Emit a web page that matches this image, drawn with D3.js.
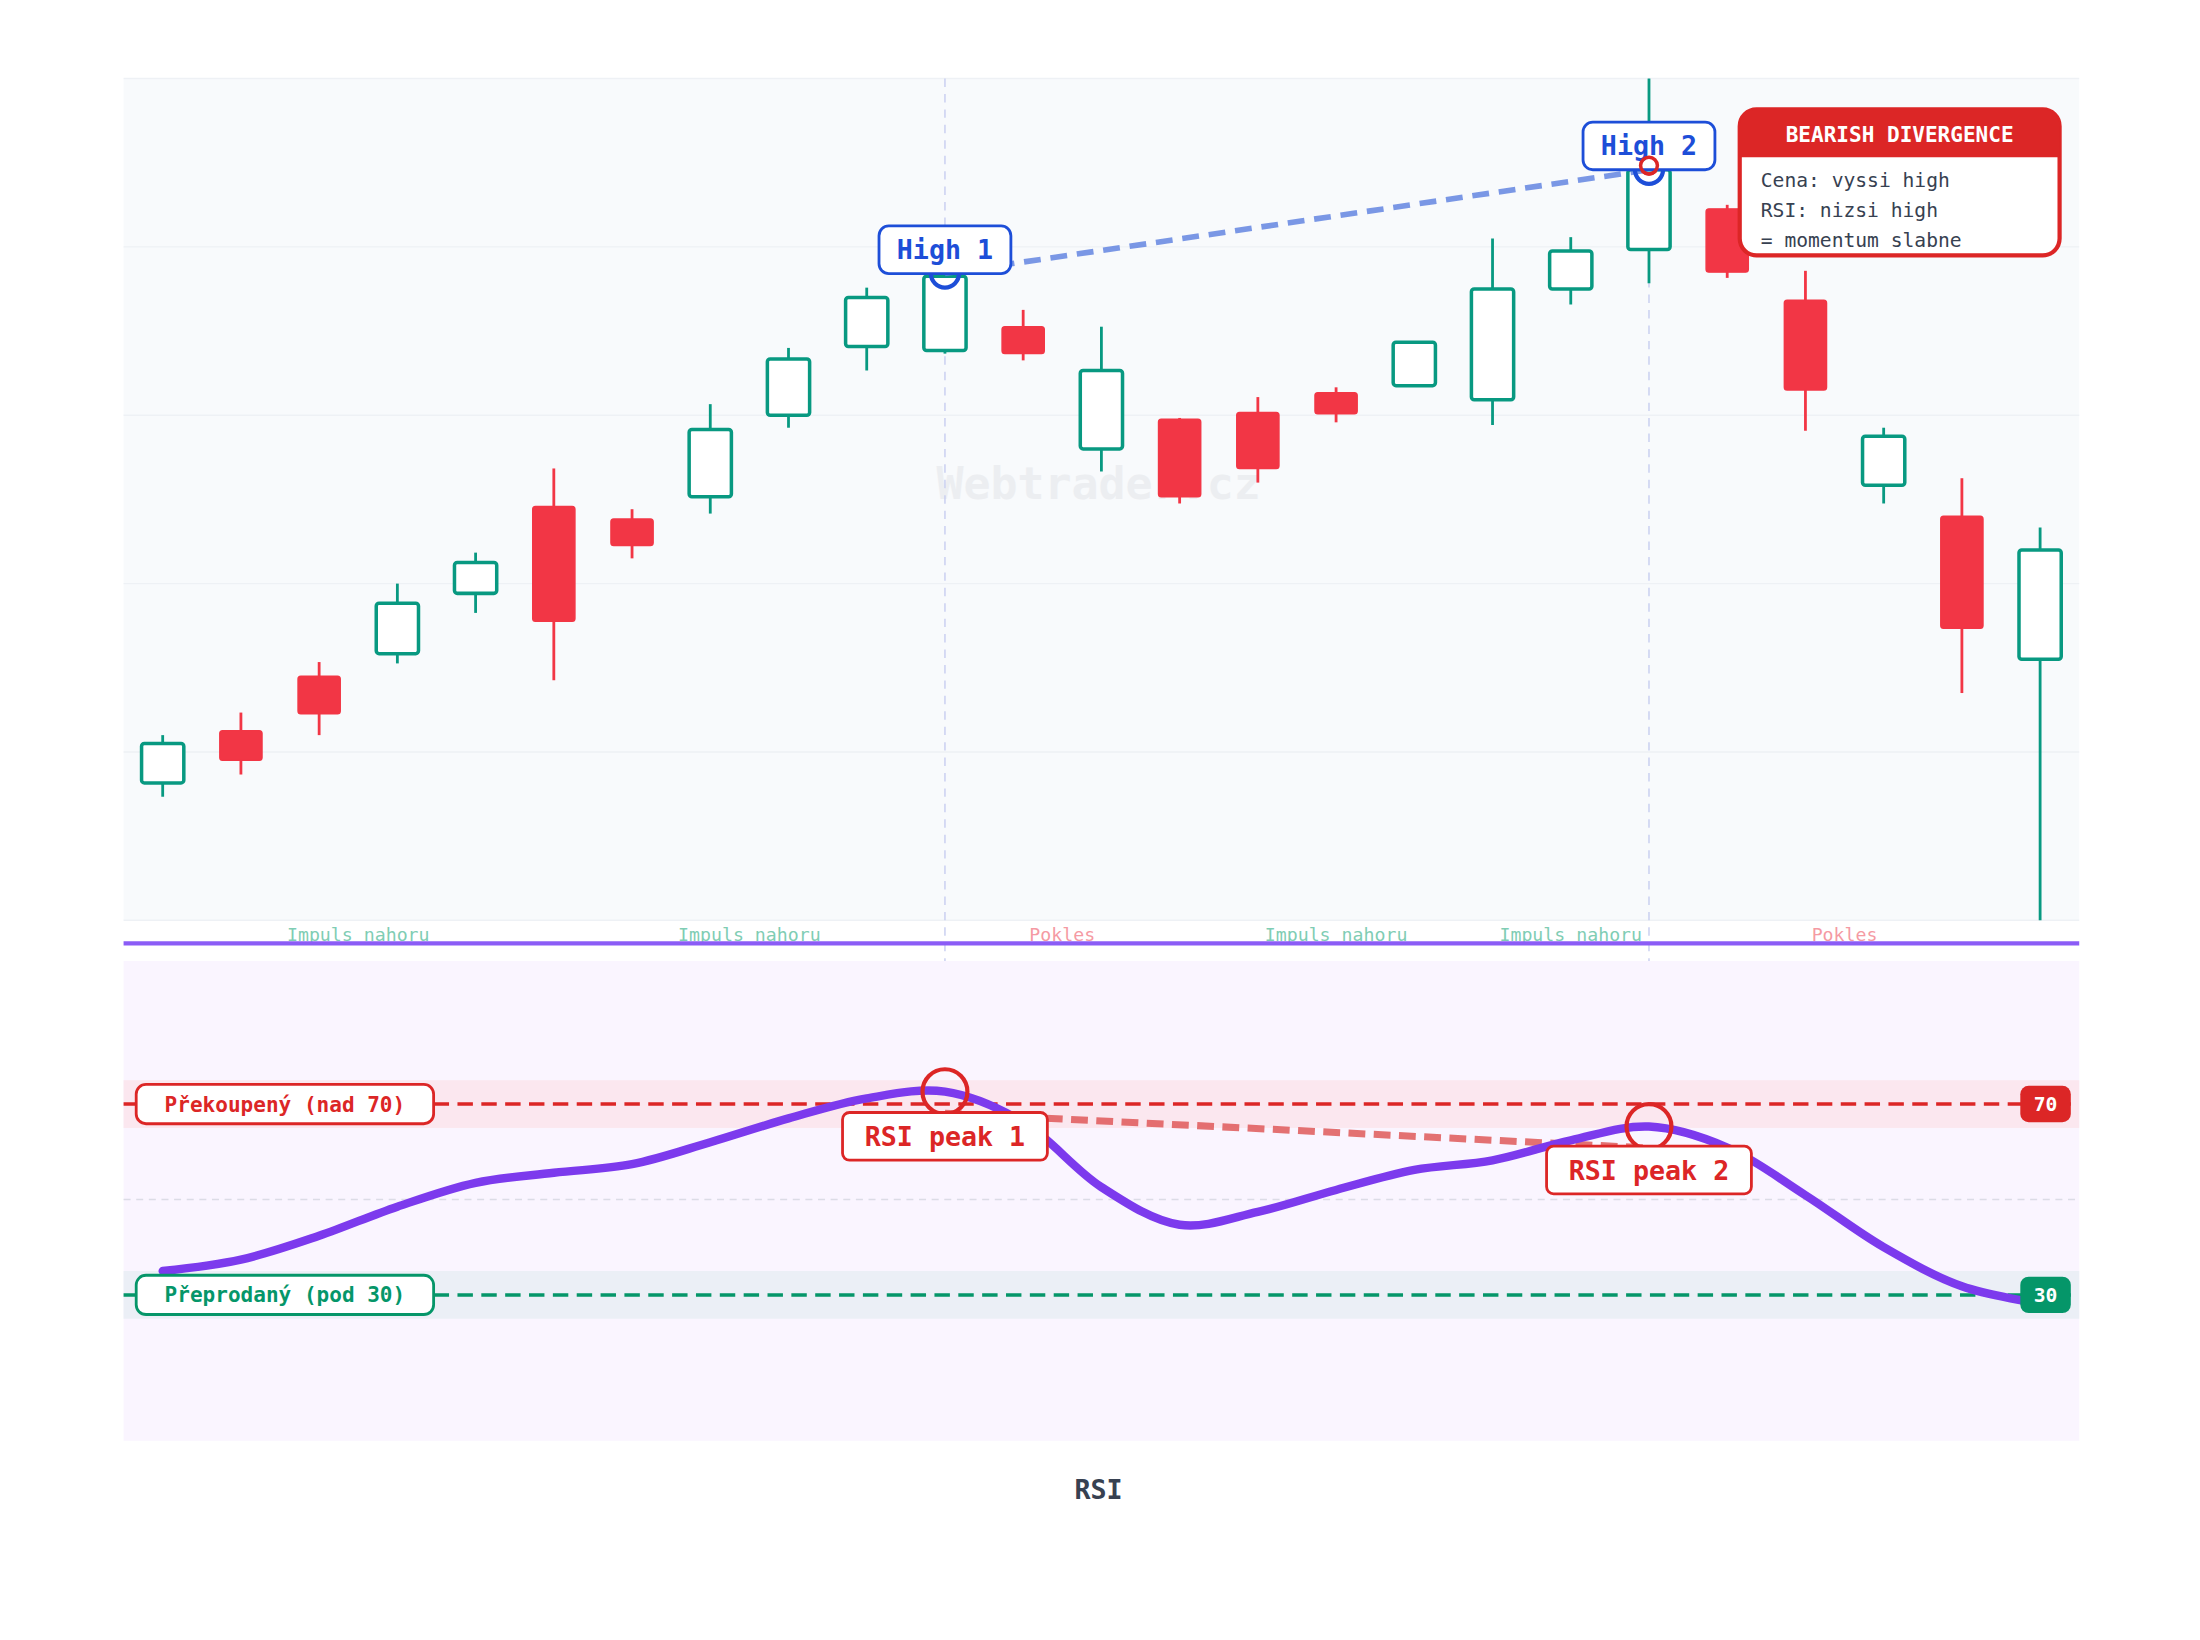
<!DOCTYPE html>
<html><head><meta charset="utf-8">
<script src="https://cdn.jsdelivr.net/npm/d3@7"></script>
<style>body{margin:0;background:#fff}svg{display:block}</style>
</head><body><svg id="c" width="2200" height="1640" viewBox="0 0 1568 1169"></svg>
<script>
const opens  = [104.08,105.63,107.25,107.92,109.71,112.29,111.92,112.58,115.00,117.04,116.92,117.63,114.00,114.88,115.08,115.67,115.88,115.46,118.75,119.92,121.13,118.42,112.92,112.00,107.75];
const closes = [105.25,104.75,106.13,109.42,110.63,108.88,111.13,114.58,116.67,118.50,119.13,116.83,116.33,112.58,113.42,115.04,117.17,118.75,119.88,122.29,119.25,115.75,114.38,108.67,111.00];
const highs  = [105.50,106.17,107.67,110.00,110.92,113.42,112.21,115.33,117.00,118.79,119.21,118.13,117.63,114.92,115.54,115.83,117.17,120.25,120.29,125.00,121.25,119.29,114.63,113.13,111.67];
const lows   = [103.67,104.33,105.50,107.63,109.13,107.13,110.75,112.08,114.63,116.33,116.83,116.63,113.33,112.38,113.00,114.79,115.88,114.71,118.29,118.92,119.08,114.54,112.38,106.75,100.00];
const rsi    = [35.0,37.4,42.4,48.5,53.5,55.6,57.4,62.0,67.0,71.2,72.6,66.2,52.6,44.7,47.4,52.0,56.2,58.2,62.4,65.3,60.9,50.9,40.0,31.8,28.2];
const regionLabels = ["Impuls nahoru","Impuls nahoru","Pokles","Impuls nahoru","Impuls nahoru","Pokles"];
const regionCenters = [2.5,7.5,11.5,15,18,21.5];
const regionUp = [true,true,false,true,true,false];
const priceTicks = [100,105,110,115,120,125];
const highIdx = [10,19];
const infoLines = ["Cena: vyssi high","RSI: nizsi high","= momentum slabne"];

const svg = d3.select("#c");
const MONO = "'DejaVu Sans Mono', monospace";
const GREEN="#089981", RED="#f23645", BLUE="#1d4ed8", DRED="#dc2626", PURPLE="#7c3aed";
const L=88,R=1482;
const idx = d3.range(opens.length);
const x = d3.scaleBand().domain(idx).range([L,R]).paddingInner(0.46).paddingOuter(0.23);
const cx = i => x(i)+x.bandwidth()/2;
const cxf = v => cx(0) + v*x.step();
const y = d3.scaleLinear().domain([100,125]).range([656,56]);
const yr = d3.scaleLinear().domain([0,100]).range([1025,685]);

// price panel
svg.append("rect").attr("x",L).attr("y",56).attr("width",R-L).attr("height",600).attr("fill","#f8fafc");
svg.append("g").selectAll("line").data(priceTicks).join("line")
 .attr("x1",L).attr("x2",R).attr("y1",d=>y(d)).attr("y2",d=>y(d)).attr("stroke","#eef1f5").attr("stroke-width",1);
svg.append("text").attr("x",783).attr("y",356).attr("text-anchor","middle").attr("font-family",MONO)
 .attr("font-weight","bold").attr("font-size",32).attr("fill","#e5e7eb").attr("opacity",0.6).text("Webtrader.cz");
// vertical markers
svg.append("g").selectAll("line").data(highIdx).join("line")
 .attr("x1",d=>cx(d)).attr("x2",d=>cx(d)).attr("y1",56).attr("y2",686)
 .attr("stroke","#c7cdf0").attr("stroke-width",1).attr("stroke-dasharray","6,5");
// candles
const cg = svg.append("g");
idx.forEach(i=>{
  const up = closes[i]>=opens[i]; const col = up?GREEN:RED;
  cg.append("line").attr("x1",cx(i)).attr("x2",cx(i)).attr("y1",y(highs[i])).attr("y2",y(lows[i])).attr("stroke",col).attr("stroke-width",2);
  const top=y(Math.max(opens[i],closes[i])), bot=y(Math.min(opens[i],closes[i]));
  cg.append("rect").attr("x",x(i)).attr("y",top).attr("width",x.bandwidth()).attr("height",Math.max(1,bot-top)).attr("rx",2)
    .attr("fill",up?"#fff":RED).attr("stroke",col).attr("stroke-width",up?2.5:1);
});
// price divergence
svg.append("line").attr("x1",cx(10)).attr("y1",y(highs[10])).attr("x2",cx(19)).attr("y2",y(closes[19]))
 .attr("stroke","#5b7fe0").attr("stroke-width",4).attr("stroke-dasharray","12,7").attr("opacity",0.8);
svg.append("circle").attr("cx",cx(10)).attr("cy",y(highs[10])).attr("r",10).attr("fill","none").attr("stroke",BLUE).attr("stroke-width",3);
svg.append("circle").attr("cx",cx(19)).attr("cy",y(closes[19])).attr("r",10).attr("fill","none").attr("stroke",BLUE).attr("stroke-width",3);
svg.append("circle").attr("cx",cx(19)).attr("cy",y(closes[19])-3).attr("r",6).attr("fill","none").attr("stroke",DRED).attr("stroke-width",2.5);
function label(cxp,cyp,w,h,txt,col,fs,r){
  const g=svg.append("g");
  g.append("rect").attr("x",cxp-w/2).attr("y",cyp-h/2).attr("width",w).attr("height",h).attr("rx",r||7).attr("fill","#fff").attr("stroke",col).attr("stroke-width",2);
  g.append("text").attr("x",cxp).attr("y",cyp).attr("dy","0.36em").attr("text-anchor","middle").attr("font-family",MONO).attr("font-weight","bold").attr("font-size",fs).attr("fill",col).text(txt);
}
label(cx(10),178,94,34,"High 1",BLUE,19);
label(cx(19),104,94,34,"High 2",BLUE,19);
svg.append("circle").attr("cx",cx(19)).attr("cy",y(closes[19])-3).attr("r",6).attr("fill","none").attr("stroke",DRED).attr("stroke-width",2.5);
// info box
const ib=svg.append("g");
ib.append("rect").attr("x",1240).attr("y",78).attr("width",228).attr("height",104).attr("rx",12).attr("fill","#fff").attr("stroke",DRED).attr("stroke-width",3);
ib.append("path").attr("d","M1240,112 V90 A12,12 0 0 1 1252,78 H1456 A12,12 0 0 1 1468,90 V112 Z").attr("fill",DRED);
ib.append("text").attr("x",1354).attr("y",96).attr("dy","0.36em").attr("text-anchor","middle").attr("font-family",MONO).attr("font-weight","bold").attr("font-size",15).attr("fill","#fff").text("BEARISH DIVERGENCE");
ib.selectAll("t").data(infoLines).join("text").attr("x",1255).attr("y",(d,i)=>128+i*21.5).attr("dy","0.36em")
 .attr("font-family",MONO).attr("font-size",14).attr("fill","#374151").text(d=>d);
// region labels
svg.append("g").selectAll("text").data(regionLabels).join("text")
 .attr("x",(d,i)=>cxf(regionCenters[i])).attr("y",666).attr("dy","0.36em").attr("text-anchor","middle")
 .attr("font-family",MONO).attr("font-size",13).attr("fill",(d,i)=>regionUp[i]?"#7fcdb4":"#f59aa3").text(d=>d);
svg.append("line").attr("x1",L).attr("x2",R).attr("y1",672.5).attr("y2",672.5).attr("stroke","#8b5cf6").attr("stroke-width",3);

// RSI panel
svg.append("rect").attr("x",L).attr("y",685).attr("width",R-L).attr("height",342).attr("fill","#faf5ff");
svg.append("rect").attr("x",L).attr("y",yr(75)).attr("width",R-L).attr("height",yr(65)-yr(75)).attr("fill","#fbe7ef");
svg.append("rect").attr("x",L).attr("y",yr(35)).attr("width",R-L).attr("height",yr(25)-yr(35)).attr("fill","#ebeff6");
svg.append("line").attr("x1",L).attr("x2",R).attr("y1",yr(50)).attr("y2",yr(50)).attr("stroke","#dcdce6").attr("stroke-width",1.2).attr("stroke-dasharray","5,4");
svg.append("line").attr("x1",L).attr("x2",R).attr("y1",yr(70)).attr("y2",yr(70)).attr("stroke",DRED).attr("stroke-width",2.5).attr("stroke-dasharray","11,6");
svg.append("line").attr("x1",L).attr("x2",R).attr("y1",yr(30)).attr("y2",yr(30)).attr("stroke","#059669").attr("stroke-width",2.5).attr("stroke-dasharray","11,6");
// rsi divergence
svg.append("line").attr("x1",cx(10)).attr("y1",yr(rsi[10]-4.5)).attr("x2",cx(19)).attr("y2",yr(rsi[19]-4.5))
 .attr("stroke","#e05a5a").attr("stroke-width",5).attr("stroke-dasharray","12,6").attr("opacity",0.85);
svg.append("path").datum(rsi).attr("d",d3.line().x((d,i)=>cx(i)).y(d=>yr(d)).curve(d3.curveCatmullRom.alpha(0.5)))
 .attr("fill","none").attr("stroke",PURPLE).attr("stroke-width",6).attr("stroke-linecap","round");
[10,19].forEach(i=>svg.append("circle").attr("cx",cx(i)).attr("cy",yr(rsi[i])).attr("r",16).attr("fill","none").attr("stroke",DRED).attr("stroke-width",3));
label(cx(10),810,146,34,"RSI peak 1",DRED,19,5);
label(cx(19),834,146,34,"RSI peak 2",DRED,19,5);
function lvl(yv,txt,col){
  const g=svg.append("g");
  g.append("rect").attr("x",97).attr("y",yr(yv)-14).attr("width",212).attr("height",28).attr("rx",7).attr("fill","#fff").attr("stroke",col).attr("stroke-width",2);
  g.append("text").attr("x",203).attr("y",yr(yv)).attr("dy","0.36em").attr("text-anchor","middle").attr("font-family",MONO).attr("font-weight","bold").attr("font-size",15).attr("fill",col).text(txt);
  g.append("rect").attr("x",1440).attr("y",yr(yv)-13).attr("width",36).attr("height",26).attr("rx",6).attr("fill",col);
  g.append("text").attr("x",1458).attr("y",yr(yv)).attr("dy","0.36em").attr("text-anchor","middle").attr("font-family",MONO).attr("font-weight","bold").attr("font-size",14).attr("fill","#fff").text(String(yv));
}
lvl(70,"Překoupený (nad 70)",DRED);
lvl(30,"Přeprodaný (pod 30)","#059669");
svg.append("text").attr("x",783).attr("y",1062).attr("dy","0.36em").attr("text-anchor","middle").attr("font-family",MONO).attr("font-weight","bold").attr("font-size",19).attr("fill","#374151").text("RSI");
</script></body></html>
